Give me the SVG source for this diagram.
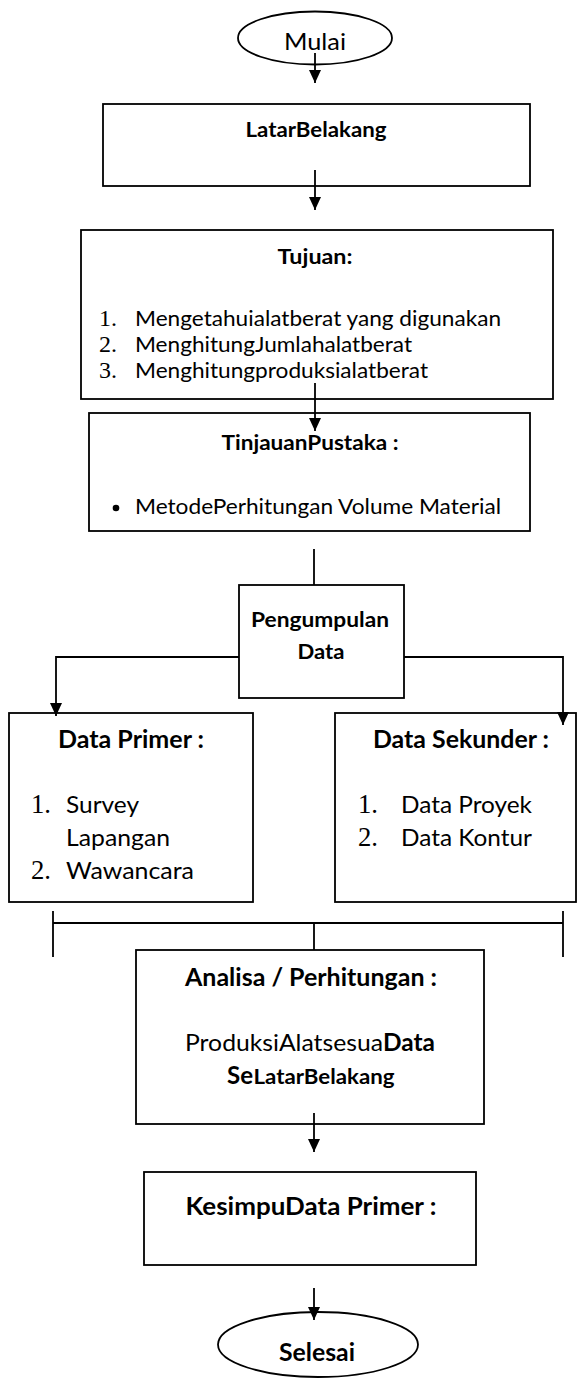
<svg xmlns="http://www.w3.org/2000/svg" width="578" height="1378" viewBox="0 0 578 1378">
  <style>
    .box { fill: #ffffff; stroke: #000000; stroke-width: 1.8; }
    .line { fill: none; stroke: #000000; stroke-width: 1.8; }
    .t { font-family: Lato, "Liberation Sans", sans-serif; fill: #000000; }
    .s { font-size: 21.5px; }
    .m { font-size: 24px; }
    .b { font-weight: bold; }
    .c { text-anchor: middle; }
    .num { font-family: "Liberation Serif", serif; fill: #000000; }
  </style>
  <defs>
    <marker id="arrow" viewBox="0 0 13 12" refX="13" refY="6" markerWidth="13" markerHeight="12" markerUnits="userSpaceOnUse" orient="auto">
      <path d="M0,0 L13,6 L0,12 z" fill="#000000"/>
    </marker>
  </defs>

  <rect width="578" height="1378" fill="#ffffff"/>

  <!-- start terminator -->
  <g id="mulai">
    <ellipse class="box" cx="315" cy="38" rx="77" ry="26.5"/>
    <text class="t m c" x="315" y="50" textLength="62" lengthAdjust="spacingAndGlyphs">Mulai</text>
  </g>

  <g id="latar-belakang">
    <rect class="box" x="103" y="104" width="427" height="82"/>
    <text class="t s b c" x="316" y="137" textLength="141" lengthAdjust="spacingAndGlyphs">LatarBelakang</text>
  </g>

  <g id="tujuan">
    <rect class="box" x="81" y="230" width="472" height="169"/>
    <text class="t s b c" x="315" y="264" textLength="75" lengthAdjust="spacingAndGlyphs">Tujuan:</text>
    <text class="num" x="99" y="326" font-size="24">1.</text>
    <text class="t s" x="135" y="326" textLength="366" lengthAdjust="spacingAndGlyphs">Mengetahuialatberat yang digunakan</text>
    <text class="num" x="99" y="352" font-size="24">2.</text>
    <text class="t s" x="135" y="352" textLength="277" lengthAdjust="spacingAndGlyphs">MenghitungJumlahalatberat</text>
    <text class="num" x="99" y="378" font-size="24">3.</text>
    <text class="t s" x="135" y="378" textLength="293" lengthAdjust="spacingAndGlyphs">Menghitungproduksialatberat</text>
  </g>

  <g id="tinjauan-pustaka">
    <rect class="box" x="89" y="413" width="441" height="118"/>
    <text class="t s b c" x="310" y="450" textLength="177" lengthAdjust="spacingAndGlyphs">TinjauanPustaka :</text>
    <circle cx="116" cy="508" r="3.3" fill="#000000"/>
    <text class="t s" x="135" y="514" textLength="366" lengthAdjust="spacingAndGlyphs">MetodePerhitungan Volume Material</text>
  </g>

  <g id="pengumpulan-data">
    <rect class="box" x="239" y="585" width="165" height="113"/>
    <text class="t s b c" x="320" y="627" textLength="138" lengthAdjust="spacingAndGlyphs">Pengumpulan</text>
    <text class="t s b c" x="321" y="659" textLength="47" lengthAdjust="spacingAndGlyphs">Data</text>
  </g>

  <g id="data-primer">
    <rect class="box" x="9" y="713" width="244" height="189"/>
    <text class="t m b c" x="131" y="748" textLength="146" lengthAdjust="spacingAndGlyphs">Data Primer :</text>
    <text class="num" x="31" y="813" font-size="26.7">1.</text>
    <text class="t m" x="66" y="813" textLength="73" lengthAdjust="spacingAndGlyphs">Survey</text>
    <text class="t m" x="66" y="846" textLength="104" lengthAdjust="spacingAndGlyphs">Lapangan</text>
    <text class="num" x="31" y="879" font-size="26.7">2.</text>
    <text class="t m" x="66" y="879" textLength="128" lengthAdjust="spacingAndGlyphs">Wawancara</text>
  </g>

  <g id="data-sekunder">
    <rect class="box" x="335" y="713" width="241" height="189"/>
    <text class="t m b c" x="461" y="748" textLength="176" lengthAdjust="spacingAndGlyphs">Data Sekunder :</text>
    <text class="num" x="358" y="813" font-size="26.7">1.</text>
    <text class="t m" x="401" y="813" textLength="131" lengthAdjust="spacingAndGlyphs">Data Proyek</text>
    <text class="num" x="358" y="846" font-size="26.7">2.</text>
    <text class="t m" x="401" y="846" textLength="131" lengthAdjust="spacingAndGlyphs">Data Kontur</text>
  </g>

  <g id="analisa">
    <rect class="box" x="136" y="950" width="348" height="174"/>
    <text class="t m b c" x="311" y="986" textLength="252" lengthAdjust="spacingAndGlyphs">Analisa / Perhitungan :</text>
    <text class="t m" x="185" y="1051" textLength="198" lengthAdjust="spacingAndGlyphs">ProduksiAlatsesua</text>
    <text class="t m b" x="383" y="1051" textLength="52" lengthAdjust="spacingAndGlyphs">Data</text>
    <text class="t m b" x="227" y="1084" textLength="26" lengthAdjust="spacingAndGlyphs">Se</text>
    <text class="t s b" x="253.5" y="1084" textLength="141" lengthAdjust="spacingAndGlyphs">LatarBelakang</text>
  </g>

  <g id="kesimpulan">
    <rect class="box" x="144" y="1172" width="332" height="93"/>
    <text class="t b c" x="311" y="1215" font-size="25" textLength="251" lengthAdjust="spacingAndGlyphs">KesimpuData Primer :</text>
  </g>

  <!-- end terminator -->
  <g id="selesai">
    <ellipse class="box" cx="318" cy="1344.5" rx="100" ry="32.5"/>
    <text class="t m b c" x="317" y="1361" textLength="76" lengthAdjust="spacingAndGlyphs">Selesai</text>
  </g>

  <g id="connectors">
    <path class="line" d="M315,53 V83" marker-end="url(#arrow)"/>
    <path class="line" d="M315,170 V210" marker-end="url(#arrow)"/>
    <path class="line" d="M315,383 V431" marker-end="url(#arrow)"/>
    <path class="line" d="M314,549 V585"/>
    <path class="line" d="M239,657 H56 V716" marker-end="url(#arrow)"/>
    <path class="line" d="M404,657 H563 V725" marker-end="url(#arrow)"/>
    <path class="line" d="M53,911 V957 M563,911 V957 M53,923 H563 M314,923 V950"/>
    <path class="line" d="M314,1113 V1152" marker-end="url(#arrow)"/>
    <path class="line" d="M314,1288 V1320" marker-end="url(#arrow)"/>
  </g>
</svg>
